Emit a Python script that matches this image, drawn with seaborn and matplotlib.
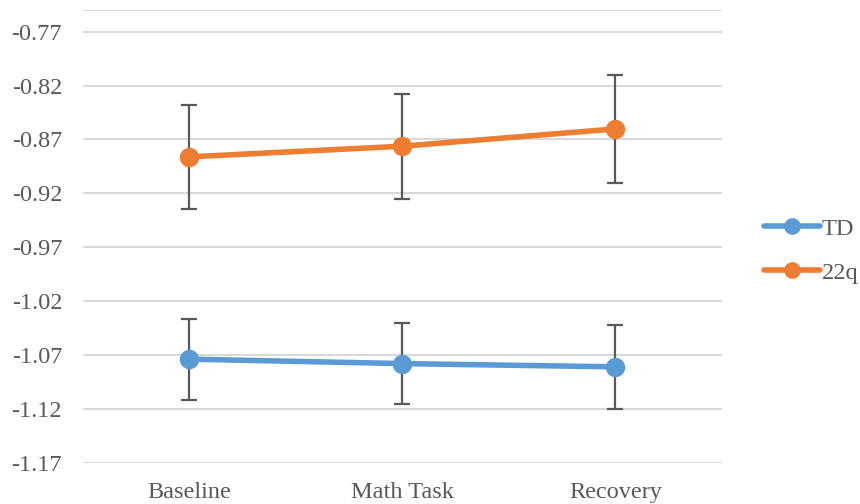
import pandas as pd
import numpy as np
import matplotlib
matplotlib.use("Agg")
import matplotlib.pyplot as plt
import seaborn as sns
from matplotlib.lines import Line2D

# datos
fases = ["Baseline", "Math Task", "Recovery"]
grupos = ["TD", "22q"]
td_media = [-1.0737, -1.0778, -1.0808]
td_error = [0.0377, 0.0378, 0.0388]
q22_media = [-0.8861, -0.8762, -0.8602]
q22_error = [0.0485, 0.0488, 0.0500]

colores = {"TD": "#5b9bd5", "22q": "#ed7d31"}

df = pd.DataFrame({
    "fase": fases * 2,
    "grupo": ["TD"] * 3 + ["22q"] * 3,
    "valor": td_media + q22_media,
    "error": td_error + q22_error,
})

sns.set_style("white")
plt.rcParams["font.family"] = ["Liberation Serif", "DejaVu Serif"]

fig = plt.figure(figsize=(8.6, 5.04), dpi=100)
ax = fig.add_axes([0.0965, 0.0813, 0.743, 0.8987])

# barras de error (debajo de las lineas)
for g in grupos:
    sub = df[df["grupo"] == g]
    ax.errorbar(np.arange(len(sub)), sub["valor"], yerr=sub["error"], fmt="none",
                ecolor="#595959", elinewidth=1.6, capsize=6, capthick=1.6, zorder=2)

sns.pointplot(data=df, x="fase", y="valor", hue="grupo", order=fases, hue_order=grupos,
              palette=colores, markers="o", errorbar=None, dodge=False,
              linewidth=4, markersize=11, ax=ax, zorder=3)

ax.set_ylim(-1.17, -0.75)
ax.set_xlim(-0.5, 2.5)
ax.set_yticks(np.arange(-1.17, -0.76, 0.05))
ax.set_yticklabels([f"{v:.2f}" for v in np.arange(-1.17, -0.76, 0.05)])
ax.axhline(-0.75, color="#d9d9d9", lw=1.5, zorder=0)
ax.grid(axis="y", color="#d9d9d9", lw=1.5)
ax.set_axisbelow(True)
for s in ax.spines.values():
    s.set_visible(False)
ax.tick_params(axis="both", length=0, labelsize=17.5, labelcolor="#595959")
ax.tick_params(axis="y", pad=15)
ax.tick_params(axis="x", pad=14)
ax.set_xlabel("")
ax.set_ylabel("")

manejadores = [Line2D([0], [0], color=colores[g], lw=4, marker="o", markersize=11) for g in grupos]
ax.legend(manejadores, grupos, loc="center left", bbox_to_anchor=(1.031, 0.469), frameon=False,
          fontsize=17.5, labelcolor="#595959", handlelength=2.3, handletextpad=0.1, labelspacing=0.9)

fig.savefig("out.png", dpi=100)
